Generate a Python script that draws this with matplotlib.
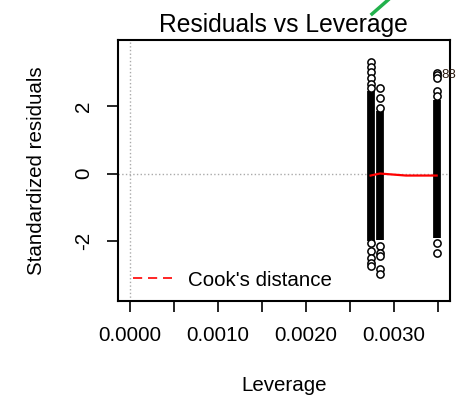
import matplotlib
matplotlib.use('Agg')
import matplotlib.pyplot as plt
from matplotlib.lines import Line2D

plt.rcParams['font.family'] = ['Liberation Sans', 'DejaVu Sans']

# leverage of the three groups of observations
lev = [0.002738, 0.002844, 0.003489]
# dense core of each column (standardized residuals)
core_lo = [-2.00, -1.98, -1.93]
core_hi = [2.45, 1.85, 2.20]
# points visible above / below the dense core
tail_top = [[3.32, 3.17, 3.02, 2.84, 2.67, 2.55],
            [2.55, 2.25, 1.95],
            [2.99, 2.92, 2.85, 2.45, 2.30]]
tail_bot = [[-2.08, -2.29, -2.50, -2.65, -2.74],
            [-2.14, -2.35, -2.44, -2.83, -2.98],
            [-2.08, -2.35]]
# smoothed red line
smooth_x = [0.002738, 0.002844, 0.003140, 0.003489]
smooth_y = [-0.06, 0.0, -0.06, -0.06]

xticks = [0.0, 0.0005, 0.0010, 0.0015, 0.0020, 0.0025, 0.0030, 0.0035]
xlabels = ['0.0000', '', '0.0010', '', '0.0020', '', '0.0030', '']
yticks = [-2, 0, 2]

W, H = 457, 396
fig = plt.figure(figsize=(W / 100, H / 100), dpi=100)
ax = fig.add_axes([118 / W, 1 - 301 / H, 331.5 / W, 261 / H])

ax.axhline(0, color='#aaaaaa', linestyle=':', lw=1, zorder=1)
ax.axvline(0, color='#aaaaaa', linestyle=':', lw=1, zorder=1)

for i in range(3):
    ax.vlines(lev[i], core_lo[i], core_hi[i], color='black', lw=5.6,
              capstyle='butt', zorder=2)
    pts = tail_top[i] + tail_bot[i]
    ax.plot([lev[i]] * len(pts), pts, 'o', mfc='white', mec='black',
            ms=5.2, mew=1.1, zorder=3)

ax.plot(smooth_x, smooth_y, color='red', lw=1.6, zorder=4)
ax.text(lev[2], 2.93, '88', fontsize=9.5, color='#2a1a10', va='center',
        ha='left', clip_on=False,
        transform=ax.transData + matplotlib.transforms.ScaledTranslation(
            3.5 / 72, 0, fig.dpi_scale_trans))

ax.set_xlim(-0.000133, 0.003635)
ax.set_ylim(-3.79, 3.97)
ax.set_xticks(xticks)
ax.set_xticklabels(xlabels)
ax.set_yticks(yticks)
ax.set_yticklabels(['-2', '0', '2'], rotation=90, va='center')
ax.tick_params(direction='out', length=8, width=1.2, labelsize=14.8, pad=10)
for s in ax.spines.values():
    s.set_linewidth(1.5)

ax.set_title('Residuals vs Leverage', fontsize=17.7, pad=6)
ax.set_xlabel('Leverage', fontsize=14.8, labelpad=22)
ax.set_ylabel('Standardized residuals', fontsize=14.8, labelpad=20)

h = Line2D([], [], color='red', linestyle=(0, (5.5, 3.5)), lw=1.2)
ax.legend([h], ["Cook's distance"], loc='center left',
          bbox_to_anchor=(0.045, 0.08), frameon=False, fontsize=14.8,
          borderpad=0, borderaxespad=0, handlelength=1.9, handletextpad=0.78)

fig.add_artist(Line2D([388 / W, 372 / W], [1, 1 - 14 / H], color='#22b14c',
                      lw=2.5, transform=fig.transFigure))

fig.savefig('out.png', dpi=100)
